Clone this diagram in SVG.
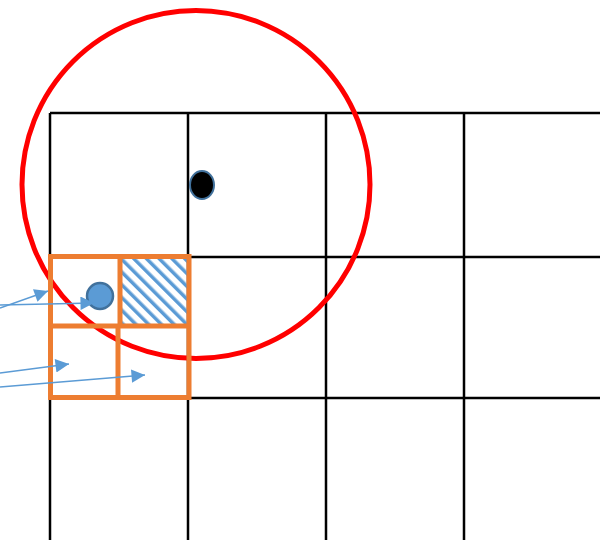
<svg xmlns="http://www.w3.org/2000/svg" width="600" height="540" viewBox="0 0 600 540">
<style>
.grid{stroke:#000;stroke-width:2.5;fill:none}
.org{stroke:#ed7d31;stroke-width:5;fill:none}
.con{stroke:#5b9bd5;stroke-width:1.5;fill:none}
</style>
<defs>
<marker id="ah" viewBox="0 0 10 10" refX="10" refY="5" markerWidth="11" markerHeight="9" markerUnits="strokeWidth" orient="auto">
<path d="M0,0 L10,5 L0,10 Z" fill="#5b9bd5"/>
</marker>
<pattern id="hatch" patternUnits="userSpaceOnUse" width="9" height="9" patternTransform="rotate(-45)">
<rect x="0" y="0" width="3.5" height="9" fill="#5b9bd5"/>
</pattern>
</defs>
<rect width="600" height="540" fill="#fff"/>
<g id="grid" class="grid">
<path d="M50,113 H600 M50,257 H600 M50,398 H600 M50,113 V540 M188,113 V540 M326,113 V540 M464,113 V540"/>
</g>
<g id="hatched-cell"><rect x="122" y="258" width="66" height="66" fill="url(#hatch)"/></g>
<g id="red-circle"><ellipse cx="196" cy="184.5" rx="174" ry="174" fill="none" stroke="#ff0000" stroke-width="5"/></g>
<g id="orange-cells" class="org">
<rect x="50.5" y="256.5" width="138.5" height="141"/>
<path d="M50.5,326 H189 M120,256.5 V326 M118,326 V397.5"/>
</g>
<g id="black-dot"><ellipse cx="202" cy="185" rx="12" ry="14" fill="#000" stroke="#41719c" stroke-width="2"/></g>
<g id="blue-dot"><circle cx="100" cy="296" r="13" fill="#5b9bd5" stroke="#41719c" stroke-width="2.5"/></g>
<g id="connectors" class="con">
<line x1="0" y1="308" x2="48" y2="291" marker-end="url(#ah)"/>
<line x1="0" y1="305" x2="94" y2="303" marker-end="url(#ah)"/>
<line x1="0" y1="373" x2="69" y2="364" marker-end="url(#ah)"/>
<line x1="0" y1="387" x2="145" y2="375" marker-end="url(#ah)"/>
</g>
</svg>
